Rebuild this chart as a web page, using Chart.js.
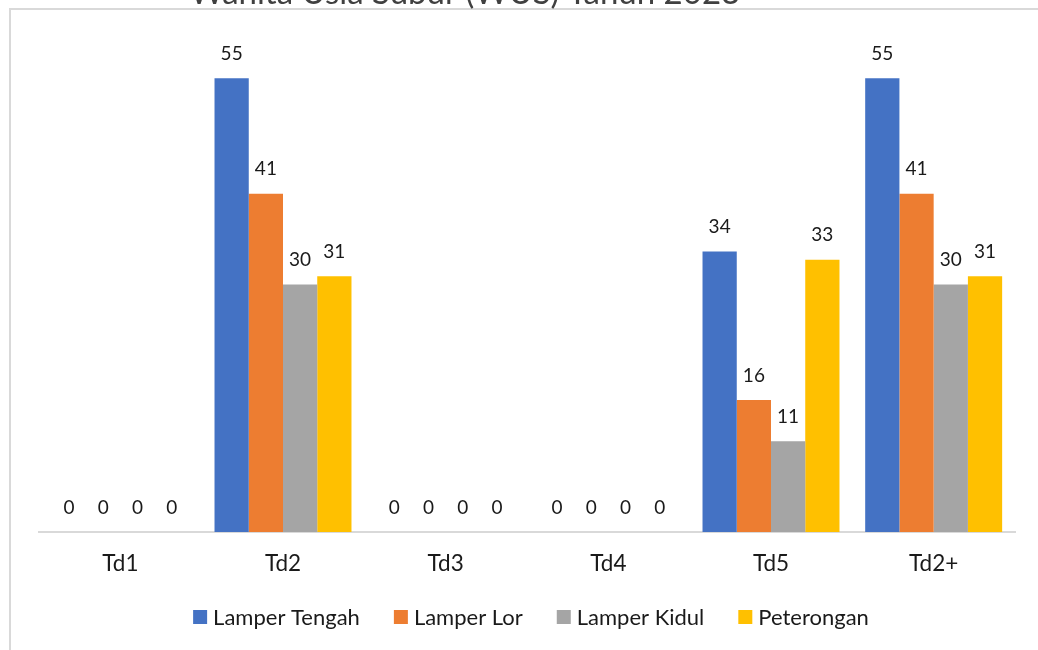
<!DOCTYPE html>
<html>
<head>
<meta charset="utf-8">
<script src="https://cdn.jsdelivr.net/npm/chart.js@4.4.1/dist/chart.umd.min.js"></script>
<style>
  html, body { margin: 0; padding: 0; background: #fff; overflow: hidden; width: 1038px; height: 650px; }
  #frame { position: absolute; left: 9px; top: 8px; width: 1100px; height: 700px; border: 2px solid #d9d9d9; box-sizing: border-box; }
  #wrap { position: absolute; left: 0; top: 0; width: 1038px; height: 650px; }
</style>
</head>
<body>
<div id="frame"></div>
<div id="wrap"><canvas id="c"></canvas></div>
<script>
const categories = ["Td1", "Td2", "Td3", "Td4", "Td5", "Td2+"];
const seriesNames = ["Lamper Tengah", "Lamper Lor", "Lamper Kidul", "Peterongan"];
const lamperTengah = [0, 55, 0, 0, 34, 55];
const lamperLor    = [0, 41, 0, 0, 16, 41];
const lamperKidul  = [0, 30, 0, 0, 11, 30];
const peterongan   = [0, 31, 0, 0, 33, 31];
const colors = ["#4472C4", "#ED7D31", "#A5A5A5", "#FFC000"];
const titleText = "Wanita Usia Subur (WUS) Tahun 2023";

const FONT = "Lato";
const TEXT = "#1a1a1a";

const valueLabels = {
  id: "valueLabels",
  afterDatasetsDraw(chart) {
    const ctx = chart.ctx;
    ctx.save();
    ctx.font = "19px " + FONT;
    ctx.fillStyle = TEXT;
    ctx.textAlign = "center";
    ctx.textBaseline = "middle";
    chart.data.datasets.forEach((ds, i) => {
      const meta = chart.getDatasetMeta(i);
      meta.data.forEach((el, j) => {
        ctx.fillText(String(ds.data[j]), el.x, el.y - 24.5);
      });
    });
    ctx.restore();
  }
};

const topTitle = {
  id: "topTitle",
  afterDraw(chart) {
    const ctx = chart.ctx;
    ctx.save();
    ctx.font = "33px " + FONT;
    ctx.fillStyle = "#404040";
    ctx.textAlign = "center";
    ctx.textBaseline = "alphabetic";
    ctx.fillText(titleText, 465, 4);
    ctx.restore();
  }
};

const bottomLegend = {
  id: "bottomLegend",
  afterDraw(chart) {
    const ctx = chart.ctx;
    const box = 14, textGap = 6, itemGap = 34, y = 617;
    ctx.save();
    ctx.font = "22px " + FONT;
    ctx.textBaseline = "middle";
    ctx.textAlign = "left";
    const items = chart.data.datasets.map(ds => ({
      label: ds.label, color: ds.backgroundColor, w: ctx.measureText(ds.label).width
    }));
    const total = items.reduce((s, it) => s + box + textGap + it.w, 0) + itemGap * (items.length - 1);
    const ca = chart.chartArea;
    let x = (ca.left + ca.right) / 2 + 4 - total / 2;
    items.forEach(it => {
      ctx.fillStyle = it.color;
      ctx.fillRect(x, y - box / 2, box, box);
      ctx.fillStyle = TEXT;
      ctx.fillText(it.label, x + box + textGap, y + 1);
      x += box + textGap + it.w + itemGap;
    });
    ctx.restore();
  }
};

const seriesData = [lamperTengah, lamperLor, lamperKidul, peterongan];

new Chart(document.getElementById("c"), {
  type: "bar",
  data: {
    labels: categories,
    datasets: seriesNames.map((n, i) => ({
      label: n,
      data: seriesData[i],
      backgroundColor: colors[i],
      borderWidth: 0,
      categoryPercentage: 0.842,
      barPercentage: 1.0
    }))
  },
  options: {
    responsive: true,
    maintainAspectRatio: false,
    animation: false,
    layout: { padding: { top: 37, left: 39, right: 23, bottom: 55 } },
    scales: {
      y: {
        display: false,
        min: 0,
        max: 60
      },
      x: {
        grid: { display: false, drawTicks: false },
        border: { display: true, color: "#d9d9d9", width: 2 },
        ticks: { color: TEXT, font: { family: FONT, size: 22.5 }, padding: 18 }
      }
    },
    plugins: {
      legend: { display: false },
      tooltip: { enabled: false },
      title: { display: false }
    }
  },
  plugins: [valueLabels, topTitle, bottomLegend]
});
</script>
</body>
</html>
